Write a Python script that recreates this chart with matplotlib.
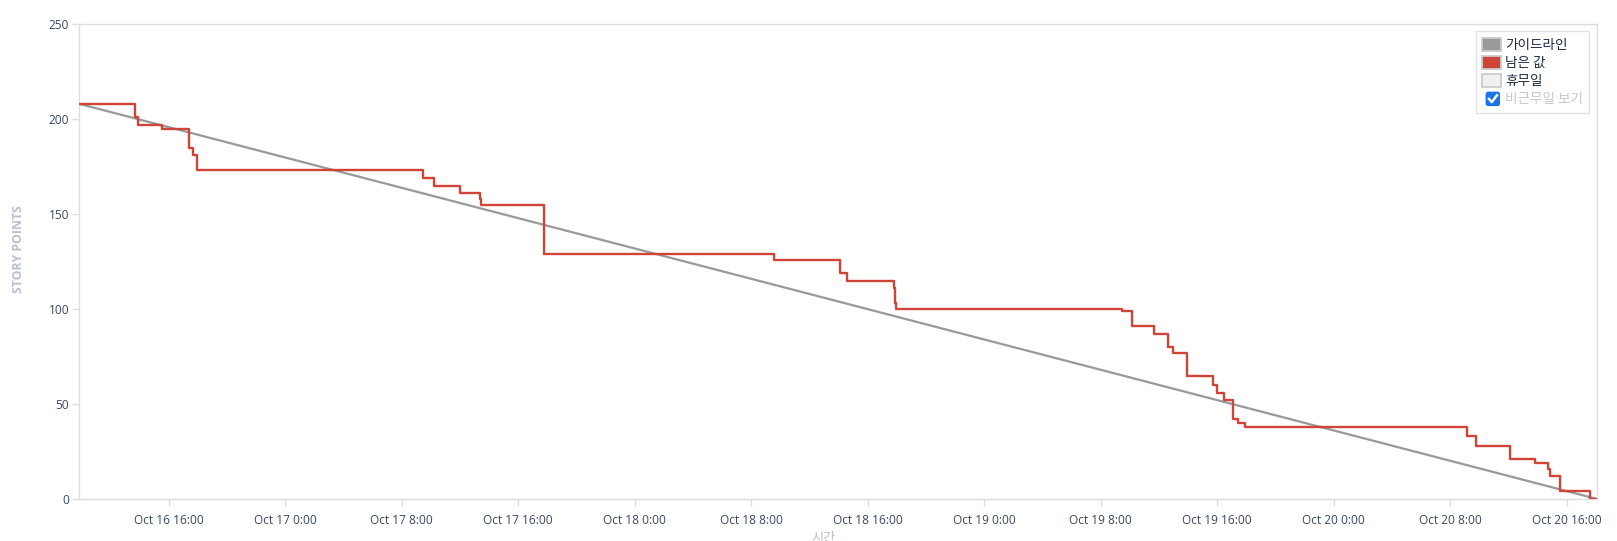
"""
burndown chart (story points remaining vs. guideline), sprint Oct 16 - Oct 20.
values read off the sprint report screenshot.  saves to out.png.
"""

import matplotlib
matplotlib.use("Agg")
import matplotlib.pyplot as plt
from matplotlib.patches import Patch, FancyBboxPatch
from matplotlib.legend_handler import HandlerBase
from matplotlib.lines import Line2D
import numpy as np

plt.rcParams["font.family"] = ["Noto Sans CJK KR", "DejaVu Sans"]

# sprint window
sprint_start = np.datetime64("2024-10-16T09:50")
sprint_end = np.datetime64("2024-10-20T18:05")
guide_start_value = 208

# remaining story points: times where the value changes, and the new value
step_times = [
    "2024-10-16T09:50", "2024-10-16T13:42", "2024-10-16T13:52", "2024-10-16T15:31",
    "2024-10-16T17:22", "2024-10-16T17:38", "2024-10-16T17:55",
    "2024-10-17T09:26", "2024-10-17T10:14", "2024-10-17T11:59", "2024-10-17T13:23",
    "2024-10-17T13:27", "2024-10-17T17:46",
    "2024-10-18T09:33", "2024-10-18T14:05", "2024-10-18T14:35", "2024-10-18T17:49",
    "2024-10-18T17:53", "2024-10-18T17:58",
    "2024-10-19T09:26", "2024-10-19T10:11", "2024-10-19T11:41", "2024-10-19T12:38",
    "2024-10-19T12:56", "2024-10-19T13:55", "2024-10-19T15:41", "2024-10-19T15:59",
    "2024-10-19T16:29", "2024-10-19T17:07", "2024-10-19T17:25", "2024-10-19T17:55",
    "2024-10-20T09:09", "2024-10-20T09:46", "2024-10-20T12:05", "2024-10-20T13:49",
    "2024-10-20T14:44", "2024-10-20T14:52", "2024-10-20T15:34", "2024-10-20T17:37",
    "2024-10-20T18:05",
]
step_values = [
    208, 201, 197, 195,
    185, 181, 173,
    169, 165, 161, 158,
    155, 129,
    126, 119, 115, 111,
    103, 100,
    99, 91, 87, 80,
    77, 65, 60, 56,
    52, 42, 40, 38,
    33, 28, 21, 19,
    16, 12, 4, 0,
    0,
]

tick_times = ["2024-10-16T16:00", "2024-10-17T00:00", "2024-10-17T08:00",
              "2024-10-17T16:00", "2024-10-18T00:00", "2024-10-18T08:00",
              "2024-10-18T16:00", "2024-10-19T00:00", "2024-10-19T08:00",
              "2024-10-19T16:00", "2024-10-20T00:00", "2024-10-20T08:00",
              "2024-10-20T16:00"]
tick_labels = ["Oct 16 16:00", "Oct 17 0:00", "Oct 17 8:00", "Oct 17 16:00",
               "Oct 18 0:00", "Oct 18 8:00", "Oct 18 16:00", "Oct 19 0:00",
               "Oct 19 8:00", "Oct 19 16:00", "Oct 20 0:00", "Oct 20 8:00",
               "Oct 20 16:00"]

legend_labels = ["가이드라인", "남은 값", "휴무일", "비근무일 보기"]

GUIDE = "#999999"
RED = "#d04437"
NONWORK = "#f0f0f0"
TICK_TXT = "#3b4763"
FRAME = "#dcdde2"

W, H = 1617, 541
fig = plt.figure(figsize=(W / 100, H / 100), dpi=100)
ax = fig.add_axes([79 / W, 1 - 499 / H, (1597 - 79) / W, (499 - 24) / H])


def to_dt(a):
    return np.array(a, dtype="datetime64[s]").tolist()


ax.plot(to_dt([sprint_start, sprint_end]), [guide_start_value, 0],
        color=GUIDE, lw=1.6, zorder=2)
ax.plot(to_dt(step_times), step_values, drawstyle="steps-post", color=RED,
        lw=1.7, zorder=3)

ax.set_xlim(*to_dt([sprint_start, sprint_end]))
ax.set_ylim(0, 250)
ax.set_yticks([0, 50, 100, 150, 200, 250])
ax.set_xticks(to_dt(tick_times))
ax.set_xticklabels(tick_labels)

for s in ax.spines.values():
    s.set_color(FRAME)
    s.set_linewidth(1.0)
ax.tick_params(axis="both", colors=FRAME, labelcolor=TICK_TXT, labelsize=8.6,
               length=5, width=1)
ax.tick_params(axis="x", pad=6)
ax.tick_params(axis="y", pad=2)
for lab in ax.get_xticklabels() + ax.get_yticklabels():
    lab.set_family(["Open Sans", "DejaVu Sans"])

ax.set_ylabel("STORY POINTS", color="#b9c0d0", fontsize=8.8, fontweight="bold",
              family=["Open Sans", "DejaVu Sans"])
ax.yaxis.set_label_coords(-0.0356, 0.526)
fig.text(824 / W, 1 - 532 / H, "시간", color="#b9c0d0", fontsize=9.5,
         ha="center", va="top")


class CheckboxHandler(HandlerBase):
    # blue checked box for the "show non-working days" toggle
    def create_artists(self, legend, orig_handle, xdescent, ydescent,
                       width, height, fontsize, trans):
        s = height * 1.0
        x0 = width - s - 1
        y0 = -ydescent + (height - s) / 2
        box = FancyBboxPatch((x0, y0), s, s, boxstyle="round,pad=0,rounding_size=1.5",
                             fc="#1a73e8", ec="#1a73e8", transform=trans)
        chk = Line2D([x0 + s * 0.2, x0 + s * 0.42, x0 + s * 0.82],
                     [y0 + s * 0.5, y0 + s * 0.25, y0 + s * 0.78],
                     color="white", lw=1.7, transform=trans)
        return [box, chk]


handles = [Patch(fc=GUIDE, ec="#cccccc", lw=1.3),
           Patch(fc=RED, ec="#cccccc", lw=1.3),
           Patch(fc=NONWORK, ec="#cccccc", lw=1.3),
           object()]
leg = ax.legend(handles, legend_labels, loc="upper right",
                bbox_to_anchor=(0.9965, 0.99), fontsize=9.8, frameon=True,
                fancybox=False, edgecolor=FRAME, handlelength=1.35,
                handleheight=1.1, handletextpad=0.3, labelspacing=0.3,
                borderpad=0.45, borderaxespad=0.2,
                handler_map={object: CheckboxHandler()})
leg.get_frame().set_linewidth(1.0)
texts = leg.get_texts()
for t in texts[:3]:
    t.set_color("#1f2a44")
texts[3].set_color("#c3c7d0")

fig.savefig("out.png", dpi=100)
